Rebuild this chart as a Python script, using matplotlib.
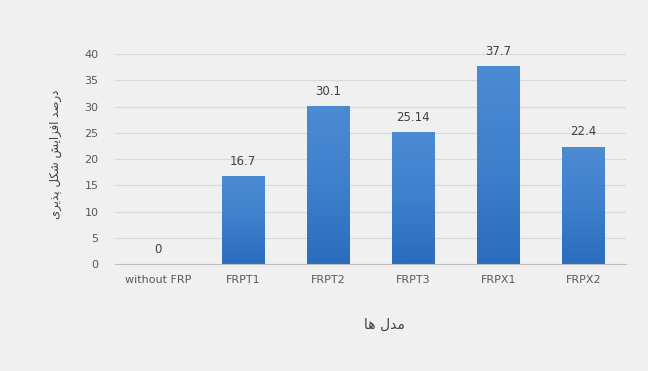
import unicodedata
import numpy as np
import matplotlib
matplotlib.use("Agg")
import matplotlib.pyplot as plt
from matplotlib.colors import LinearSegmentedColormap

categories = ["without FRP", "FRPT1", "FRPT2", "FRPT3", "FRPX1", "FRPX2"]
values = [0, 16.7, 30.1, 25.14, 37.7, 22.4]
value_labels = ["0", "16.7", "30.1", "25.14", "37.7", "22.4"]
y_ticks = [0, 5, 10, 15, 20, 25, 30, 35, 40]
y_title = "درصد افزایش شکل پذیری"
x_title = "مدل ها"

# matplotlib has no arabic shaping, so pick presentation forms by hand
FORMS = {}
for cp in list(range(0xFB50, 0xFE00)) + list(range(0xFE70, 0xFF00)):
    d = unicodedata.decomposition(chr(cp)).split()
    if len(d) == 2 and d[0] in ("<isolated>", "<final>", "<initial>", "<medial>"):
        FORMS.setdefault(chr(int(d[1], 16)), {}).setdefault(d[0][1:-1], chr(cp))


def shape(text):
    out = []
    for i, c in enumerate(text):
        if c not in FORMS:
            out.append(c)
            continue
        prev = text[i - 1] if i > 0 else None
        nxt = text[i + 1] if i + 1 < len(text) else None
        pj = prev in FORMS and "initial" in FORMS[prev]
        nj = "initial" in FORMS[c] and nxt in FORMS
        f = FORMS[c]
        if pj and nj:
            out.append(f.get("medial", c))
        elif pj:
            out.append(f.get("final", c))
        elif nj:
            out.append(f.get("initial", c))
        else:
            out.append(f.get("isolated", c))
    return "".join(out)[::-1]


bg = "#f0f0f0"
fig = plt.figure(figsize=(6.48, 3.71), dpi=100, facecolor=bg)
ax = fig.add_axes([0.178, 0.288, 0.788, 0.566], facecolor=bg)

x = np.arange(len(categories))
bars = ax.bar(x, values, width=0.5, color="#3a7cc8", zorder=2)

cmap = LinearSegmentedColormap.from_list("blue", ["#2a6dbd", "#3d80cc", "#4b8bd2"])
grad = np.linspace(0, 1, 100).reshape(-1, 1)
for b in bars:
    if b.get_height() <= 0:
        continue
    im = ax.imshow(grad, extent=[b.get_x(), b.get_x() + b.get_width(), 0, b.get_height()],
                   origin="lower", aspect="auto", cmap=cmap, zorder=3)
    im.set_clip_path(b)

for xi, v, lab in zip(x, values, value_labels):
    ax.text(xi, v + 1.6, lab, ha="center", va="bottom", fontsize=8.5, color="#404040")

ax.set_xlim(-0.5, len(categories) - 0.5)
ax.set_ylim(0, 40)
ax.set_yticks(y_ticks)
ax.set_xticks(x)
ax.set_xticklabels(categories)
ax.tick_params(axis="both", length=0, labelsize=8, colors="#595959")
ax.tick_params(axis="y", pad=12)
ax.tick_params(axis="x", pad=8)
ax.yaxis.grid(True, color="#d9d9d9", linewidth=0.8, zorder=0)
ax.set_axisbelow(True)
for s in ["top", "right", "left"]:
    ax.spines[s].set_visible(False)
ax.spines["bottom"].set_color("#bfbfbf")
ax.spines["bottom"].set_zorder(4)

fig.text(0.085, 0.583, shape(y_title), rotation=90, ha="center", va="center",
         fontsize=8.5, color="#404040", family="DejaVu Sans")
fig.text(0.594, 0.124, shape(x_title), ha="center", va="center",
         fontsize=10, color="#404040", family="DejaVu Sans")

fig.savefig("out.png", dpi=100, facecolor=bg)
